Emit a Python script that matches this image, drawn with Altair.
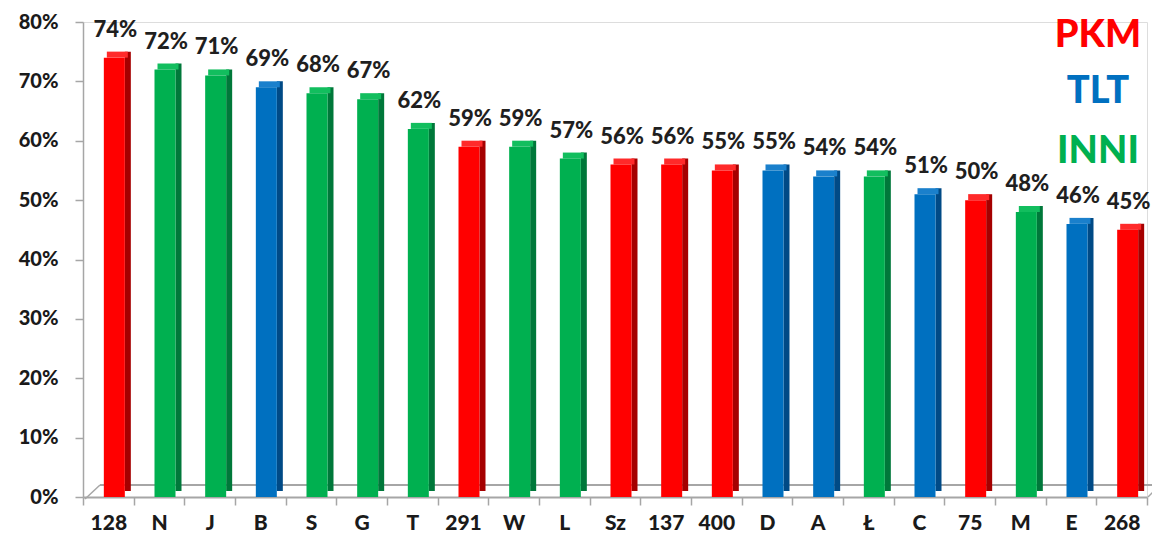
import altair as alt
import pandas as pd

categories = ["128", "N", "J", "B", "S", "G", "T", "291", "W", "L", "Sz", "137",
              "400", "D", "A", "Ł", "C", "75", "M", "E", "268"]
values = [0.74, 0.72, 0.71, 0.69, 0.68, 0.67, 0.62, 0.59, 0.59, 0.57, 0.56, 0.56,
          0.55, 0.55, 0.54, 0.54, 0.51, 0.50, 0.48, 0.46, 0.45]
groups = ["PKM", "INNI", "INNI", "TLT", "INNI", "INNI", "INNI", "PKM", "INNI", "INNI",
          "PKM", "PKM", "PKM", "TLT", "TLT", "INNI", "TLT", "PKM", "INNI", "TLT", "PKM"]

legend_labels = ["PKM", "TLT", "INNI"]

front_colors = {"PKM": "#FF0000", "TLT": "#0070C0", "INNI": "#00B050"}
side_colors = {"PKM": "#A50000", "TLT": "#004A86", "INNI": "#00783A"}
top_colors = {"PKM": "#FF2A2A", "TLT": "#1A80CC", "INNI": "#12BE5E"}

df = pd.DataFrame({"cat": categories, "value": values, "group": groups})
df["front"] = df["group"].map(front_colors)
df["side"] = df["group"].map(side_colors)
df["top"] = df["group"].map(top_colors)

leg = pd.DataFrame({"label": legend_labels})
leg["color"] = leg["label"].map(front_colors)
leg["ypos"] = [25, 81, 141]

FONT = "Lato"
W, H = 1064, 475

x = alt.X("cat:N", sort=categories, title=None,
          scale=alt.Scale(paddingInner=0, paddingOuter=0),
          axis=alt.Axis(labelFont=FONT, labelFontSize=21, labelFontWeight=900,
                        labelColor="#1a1a1a", labelPadding=7, tickBand="extent",
                        tickSize=8, tickColor="#a6a6a6", tickWidth=1.5,
                        domainColor="#a6a6a6", domainWidth=2, labelAngle=0))
y = alt.Y("value:Q", title=None,
          scale=alt.Scale(domain=[0, 0.8], nice=False),
          axis=alt.Axis(format=".0%", values=[i / 10 for i in range(9)],
                        labelFont=FONT, labelFontSize=20, labelFontWeight=900,
                        labelColor="#1a1a1a", labelPadding=17, tickSize=8,
                        tickColor="#a6a6a6", tickWidth=1.5, domainColor="#a6a6a6",
                        domainWidth=1.5, grid=False))

base = alt.Chart(df)

floor_back = alt.Chart(df).mark_rule(color="#a6a6a6", strokeWidth=2).encode(
    x=alt.value(17), x2=alt.value(W + 13), y=alt.value(463)).transform_filter(
    alt.datum.cat == "128")
floor_left = alt.Chart(df).mark_rule(color="#a6a6a6", strokeWidth=1.5).encode(
    x=alt.value(2), x2=alt.value(17), y=alt.value(477), y2=alt.value(463)).transform_filter(
    alt.datum.cat == "128")
floor_right = alt.Chart(df).mark_rule(color="#a6a6a6", strokeWidth=1.5).encode(
    x=alt.value(W + 1), x2=alt.value(W + 13), y=alt.value(475), y2=alt.value(463)).transform_filter(
    alt.datum.cat == "128")

side = base.mark_bar(size=6, xOffset=19.5, yOffset=-6, y2Offset=-6).encode(
    x=x, y=y, color=alt.Color("side:N", scale=None))
top = base.mark_bar(size=21, xOffset=9, yOffset=-6, y2Offset=0).encode(
    x=x, y=y, y2="value:Q", color=alt.Color("top:N", scale=None))
front = base.mark_bar(size=21, xOffset=6, y2Offset=-3).encode(
    x=x, y=y, color=alt.Color("front:N", scale=None))
labels = base.mark_text(font=FONT, fontSize=22, fontWeight=900, color="#1f1f1f",
                        baseline="alphabetic", dy=-21, dx=7).encode(
    x=x, y=y, text=alt.Text("value:Q", format=".0%"))

legend = alt.Chart(leg).mark_text(font=FONT, fontSize=38, fontWeight=900,
                                  baseline="alphabetic", align="center").encode(
    x=alt.value(1015), y=alt.Y("ypos:Q", scale=None),
    text="label:N", color=alt.Color("color:N", scale=None))

chart = alt.layer(floor_back, floor_left, floor_right, side, top, front, labels, legend).properties(
    width=W, height=H,
    autosize=alt.AutoSizeParams(type="none"),
    padding={"left": 75, "top": 14, "right": 5, "bottom": 45},
).configure_view(stroke=None).configure(background="white")

chart.save("out.html", embed_options={"renderer": "svg", "actions": False})
